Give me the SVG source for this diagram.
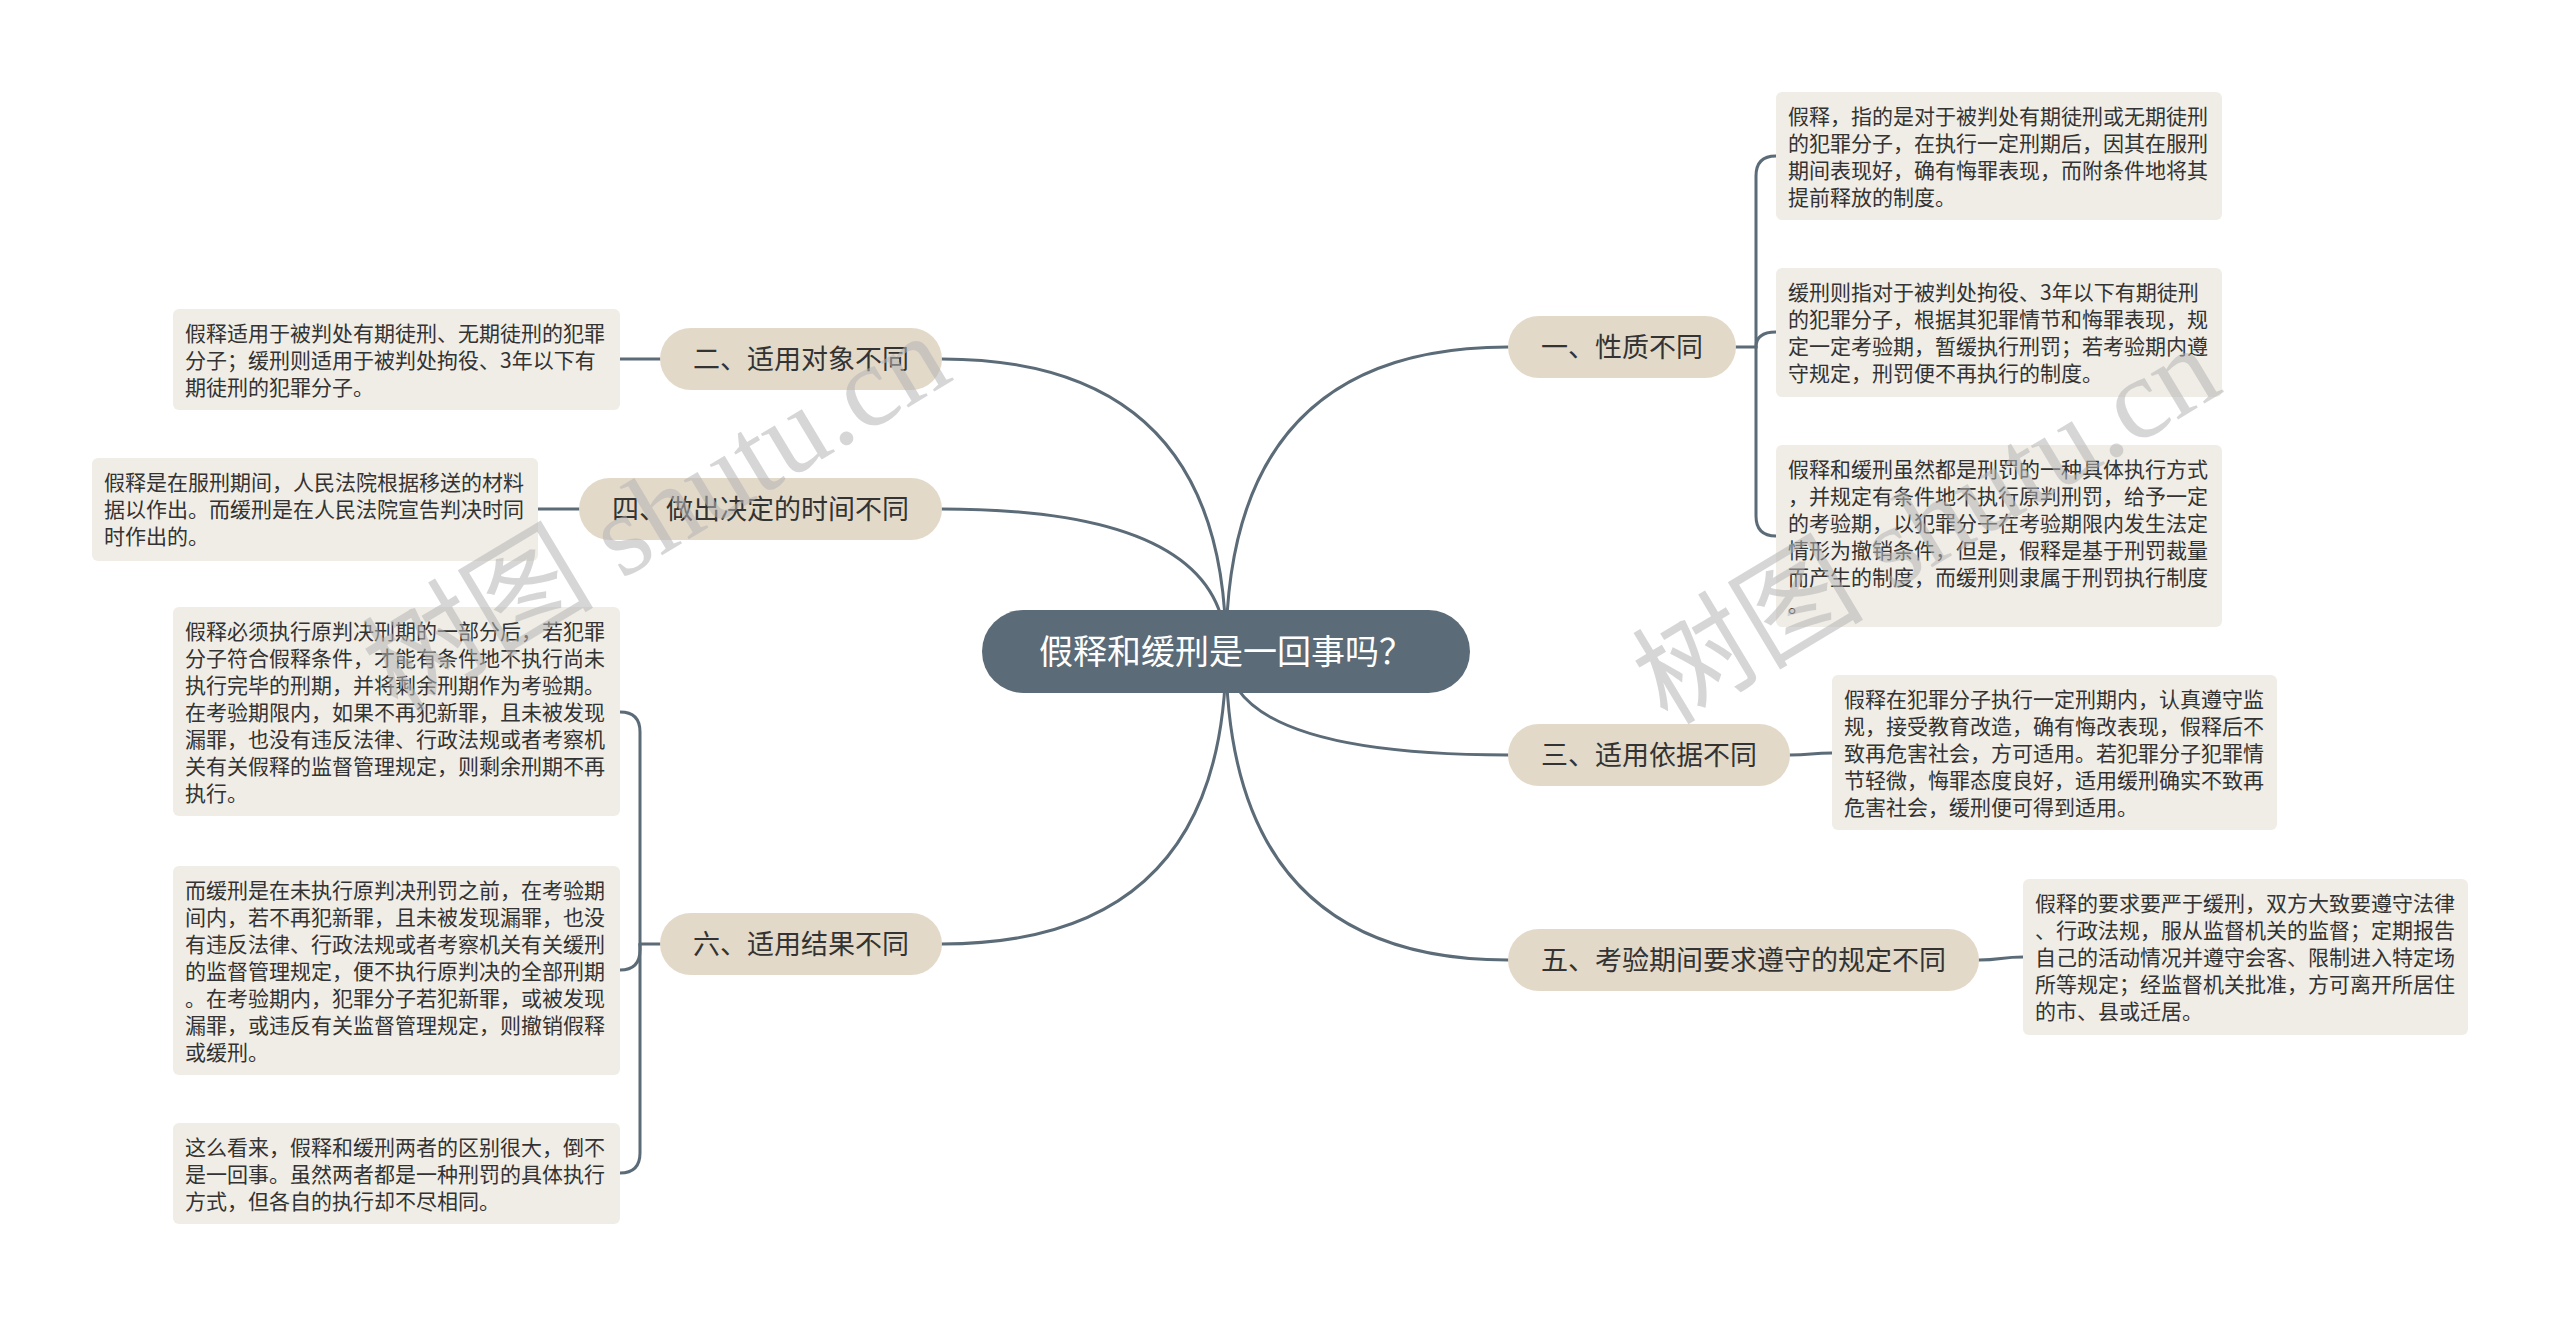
<svg xmlns="http://www.w3.org/2000/svg" width="2560" height="1318" viewBox="0 0 2560 1318">
<style>
.bg{fill:#ffffff}
.link{fill:none;stroke:#5b6b77;stroke-width:3;stroke-linecap:round}
.root rect{fill:#5b6b77}
.root text{fill:#ffffff;font-size:34px;text-anchor:middle}
.branch rect{fill:#e2d9c9}
.branch text{fill:#333333;font-size:27px;text-anchor:middle}
.leaf rect{fill:#f0ede6}
.leaf text{fill:#333333;font-size:21px}
text{font-family:"Noto Sans CJK SC","Noto Sans",sans-serif}
.wm{fill:#b4b4b4;fill-opacity:0.55;font-size:116px;font-family:"Liberation Serif","Noto Sans CJK SC",serif}
</style>
<rect class="bg" x="0" y="0" width="2560" height="1318"/>

<g id="connectors">
  <path class="link" d="M1226 651 Q1226 347 1508 347"/>
  <path class="link" d="M1226 651 Q1226 755 1508 755"/>
  <path class="link" d="M1226 651 Q1226 960 1508 960"/>
  <path class="link" d="M1226 651 Q1226 359 942 359"/>
  <path class="link" d="M1226 651 Q1226 509 942 509"/>
  <path class="link" d="M1226 651 Q1226 944 942 944"/>
  <path class="link" d="M1736 347 H1756 V176 Q1756 156 1776 156"/>
  <path class="link" d="M1756 347 Q1756 332 1776 332"/>
  <path class="link" d="M1756 347 V516 Q1756 536 1776 536"/>
  <path class="link" d="M1790 755 C1811 755 1811 753 1832 753"/>
  <path class="link" d="M1979 960 C2001 960 2001 957 2023 957"/>
  <path class="link" d="M660 359 H620"/>
  <path class="link" d="M579 509 H538"/>
  <path class="link" d="M660 944 H640 V732 Q640 712 620 712"/>
  <path class="link" d="M640 944 V950 Q640 970 620 970"/>
  <path class="link" d="M640 944 V1153 Q640 1173 620 1173"/>
</g>

<g id="root" class="root">
  <rect x="982" y="610" width="488" height="83" rx="41.5"/>
  <text x="1226" y="664">假释和缓刑是一回事吗？</text>
</g>

<g id="b1" class="branch"><rect x="1508" y="316" width="228" height="62" rx="31"/><text x="1622" y="357">一、性质不同</text></g>
<g id="b3" class="branch"><rect x="1508" y="724" width="282" height="62" rx="31"/><text x="1649" y="765">三、适用依据不同</text></g>
<g id="b5" class="branch"><rect x="1508" y="929" width="471" height="62" rx="31"/><text x="1743.5" y="970">五、考验期间要求遵守的规定不同</text></g>
<g id="b2" class="branch"><rect x="660" y="328" width="282" height="62" rx="31"/><text x="801" y="369">二、适用对象不同</text></g>
<g id="b4" class="branch"><rect x="579" y="478" width="363" height="62" rx="31"/><text x="760.5" y="519">四、做出决定的时间不同</text></g>
<g id="b6" class="branch"><rect x="660" y="913" width="282" height="62" rx="31"/><text x="801" y="954">六、适用结果不同</text></g>

<g id="r1" class="leaf"><rect x="1776" y="92" width="446" height="128" rx="6"/>
<text x="1788" y="124">假释，指的是对于被判处有期徒刑或无期徒刑</text>
<text x="1788" y="151">的犯罪分子，在执行一定刑期后，因其在服刑</text>
<text x="1788" y="178">期间表现好，确有悔罪表现，而附条件地将其</text>
<text x="1788" y="205">提前释放的制度。</text></g>

<g id="r2" class="leaf"><rect x="1776" y="268" width="446" height="129" rx="6"/>
<text x="1788" y="300">缓刑则指对于被判处拘役、3年以下有期徒刑</text>
<text x="1788" y="327">的犯罪分子，根据其犯罪情节和悔罪表现，规</text>
<text x="1788" y="354">定一定考验期，暂缓执行刑罚；若考验期内遵</text>
<text x="1788" y="381">守规定，刑罚便不再执行的制度。</text></g>

<g id="r3" class="leaf"><rect x="1776" y="445" width="446" height="182" rx="6"/>
<text x="1788" y="477">假释和缓刑虽然都是刑罚的一种具体执行方式</text>
<text x="1788" y="504">，并规定有条件地不执行原判刑罚，给予一定</text>
<text x="1788" y="531">的考验期，以犯罪分子在考验期限内发生法定</text>
<text x="1788" y="558">情形为撤销条件，但是，假释是基于刑罚裁量</text>
<text x="1788" y="585">而产生的制度，而缓刑则隶属于刑罚执行制度</text>
<text x="1788" y="612">。</text></g>

<g id="r4" class="leaf"><rect x="1832" y="675" width="445" height="155" rx="6"/>
<text x="1844" y="707">假释在犯罪分子执行一定刑期内，认真遵守监</text>
<text x="1844" y="734">规，接受教育改造，确有悔改表现，假释后不</text>
<text x="1844" y="761">致再危害社会，方可适用。若犯罪分子犯罪情</text>
<text x="1844" y="788">节轻微，悔罪态度良好，适用缓刑确实不致再</text>
<text x="1844" y="815">危害社会，缓刑便可得到适用。</text></g>

<g id="r5" class="leaf"><rect x="2023" y="879" width="445" height="156" rx="6"/>
<text x="2035" y="911">假释的要求要严于缓刑，双方大致要遵守法律</text>
<text x="2035" y="938">、行政法规，服从监督机关的监督；定期报告</text>
<text x="2035" y="965">自己的活动情况并遵守会客、限制进入特定场</text>
<text x="2035" y="992">所等规定；经监督机关批准，方可离开所居住</text>
<text x="2035" y="1019">的市、县或迁居。</text></g>

<g id="l2" class="leaf"><rect x="173" y="309" width="447" height="101" rx="6"/>
<text x="185" y="341">假释适用于被判处有期徒刑、无期徒刑的犯罪</text>
<text x="185" y="368">分子；缓刑则适用于被判处拘役、3年以下有</text>
<text x="185" y="395">期徒刑的犯罪分子。</text></g>

<g id="l4" class="leaf"><rect x="92" y="458" width="446" height="103" rx="6"/>
<text x="104" y="490">假释是在服刑期间，人民法院根据移送的材料</text>
<text x="104" y="517">据以作出。而缓刑是在人民法院宣告判决时同</text>
<text x="104" y="544">时作出的。</text></g>

<g id="l6a" class="leaf"><rect x="173" y="607" width="447" height="209" rx="6"/>
<text x="185" y="639">假释必须执行原判决刑期的一部分后，若犯罪</text>
<text x="185" y="666">分子符合假释条件，才能有条件地不执行尚未</text>
<text x="185" y="693">执行完毕的刑期，并将剩余刑期作为考验期。</text>
<text x="185" y="720">在考验期限内，如果不再犯新罪，且未被发现</text>
<text x="185" y="747">漏罪，也没有违反法律、行政法规或者考察机</text>
<text x="185" y="774">关有关假释的监督管理规定，则剩余刑期不再</text>
<text x="185" y="801">执行。</text></g>

<g id="l6b" class="leaf"><rect x="173" y="866" width="447" height="209" rx="6"/>
<text x="185" y="898">而缓刑是在未执行原判决刑罚之前，在考验期</text>
<text x="185" y="925">间内，若不再犯新罪，且未被发现漏罪，也没</text>
<text x="185" y="952">有违反法律、行政法规或者考察机关有关缓刑</text>
<text x="185" y="979">的监督管理规定，便不执行原判决的全部刑期</text>
<text x="185" y="1006">。在考验期内，犯罪分子若犯新罪，或被发现</text>
<text x="185" y="1033">漏罪，或违反有关监督管理规定，则撤销假释</text>
<text x="185" y="1060">或缓刑。</text></g>

<g id="l6c" class="leaf"><rect x="173" y="1123" width="447" height="101" rx="6"/>
<text x="185" y="1155">这么看来，假释和缓刑两者的区别很大，倒不</text>
<text x="185" y="1182">是一回事。虽然两者都是一种刑罚的具体执行</text>
<text x="185" y="1209">方式，但各自的执行却不尽相同。</text></g>

<g id="watermark">
  <text class="wm" x="657" y="552" text-anchor="middle" transform="rotate(-31 657 514)">树图 shutu.cn</text>
  <text class="wm" x="1927" y="564" text-anchor="middle" transform="rotate(-31 1927 526)">树图 shutu.cn</text>
</g>
</svg>
